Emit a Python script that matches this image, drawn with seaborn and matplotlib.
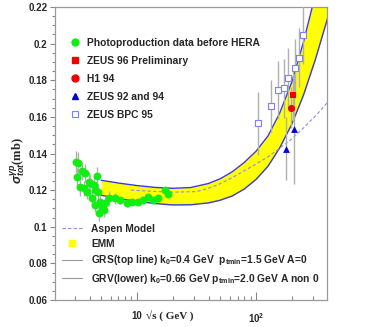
import numpy as np
import pandas as pd
import matplotlib
matplotlib.use("Agg")
import matplotlib.pyplot as plt
import seaborn as sns
from matplotlib.lines import Line2D
from matplotlib.ticker import FixedLocator, MultipleLocator, NullFormatter, FixedFormatter, FuncFormatter

# ---------------- data ----------------
green_x = [3.07, 3.15, 3.19, 3.34, 3.45, 3.57, 3.64, 3.80, 3.93, 4.05, 4.19, 4.33, 4.46, 4.46,
           4.61, 4.67, 4.77, 4.92, 5.08, 5.25, 5.42, 5.78, 6.57, 7.20, 8.19, 9.03, 10.25, 11.3,
           12.45, 13.7, 15.1, 17.2, 18.3]
green_y = [0.1356, 0.1272, 0.1347, 0.1219, 0.1305, 0.1210, 0.1292, 0.1192, 0.1247, 0.1237,
           0.1155, 0.1228, 0.1201, 0.1119, 0.1279, 0.1192, 0.1073, 0.1137, 0.1101, 0.1091,
           0.1128, 0.1155, 0.1155, 0.1144, 0.1128, 0.1137, 0.1137, 0.1144, 0.1162, 0.1144,
           0.1155, 0.1199, 0.1181]
green_err = [0.006, 0.005, 0.006, 0.005, 0.005, 0.004, 0.005, 0.004, 0.005, 0.005, 0.004, 0.004,
             0.004, 0.004, 0.005, 0.004, 0.004, 0.004, 0.004, 0.004, 0.004, 0.004, 0.003, 0.002,
             0.002, 0.002, 0.002, 0.002, 0.002, 0.002, 0.002, 0.002, 0.002]

zeus96_x, zeus96_y, zeus96_err = [203.0], [0.1719], [0.014]
h194_x, h194_y, h194_err = [198.0], [0.1651], [0.011]
zeus9294_x = [178.6, 207.0]
zeus9294_y = [0.1427, 0.1536]
zeus9294_err = [0.017, 0.030]
bpc_x = [104.0, 133.0, 152.0, 172.0, 187.0, 213.0, 231.0, 250.0]
bpc_y = [0.1564, 0.1660, 0.1746, 0.1755, 0.1815, 0.1865, 0.1923, 0.2047]
bpc_err = [0.017, 0.014, 0.016, 0.016, 0.016, 0.016, 0.016, 0.016]

band_x = [5, 7.1, 10, 14.1, 20, 28.2, 39.8, 50.1, 63.1, 79.4, 100, 126, 158, 200, 251, 316, 398]
grs_y = [0.1254, 0.1238, 0.1225, 0.1215, 0.1210, 0.1214, 0.1236, 0.1262, 0.1300, 0.1350,
         0.1412, 0.1495, 0.1620, 0.1790, 0.2010, 0.2270, 0.2560]
grv_y = [0.1172, 0.1153, 0.1139, 0.1127, 0.1119, 0.1120, 0.1130, 0.1145, 0.1168, 0.1205,
         0.1258, 0.1330, 0.1430, 0.1560, 0.1720, 0.1915, 0.2135]
aspen_x = [8.9, 14.1, 20, 31.6, 39.8, 50.1, 63.1, 79.4, 100, 126, 158, 200, 251, 316, 398]
aspen_y = [0.1200, 0.1193, 0.1189, 0.1192, 0.1210, 0.1235, 0.1268, 0.1305, 0.1342, 0.1382,
           0.1428, 0.1480, 0.1540, 0.1605, 0.1678]

legend1_labels = ["Photoproduction data before HERA", "ZEUS 96 Preliminary", "H1 94",
                  "ZEUS 92 and 94", "ZEUS BPC 95"]
legend2_labels = ["Aspen Model", "EMM",
                  r"GRS(top line) k$_0$=0.4 GeV  p$_{\rm tmin}$=1.5 GeV A=0",
                  r"GRV(lower) k$_0$=0.66 GeV p$_{\rm tmin}$=2.0 GeV A non 0"]
xtick_vals = [10, 100]
xtick_labels = ["10", r"10$^{\rm 2}$"]

# ---------------- style ----------------
sns.set_theme(style="ticks")
plt.rcParams["font.family"] = ["Liberation Sans", "DejaVu Sans"]
plt.rcParams["font.weight"] = "bold"
plt.rcParams["mathtext.fontset"] = "custom"
plt.rcParams["mathtext.rm"] = "Liberation Sans:bold"
plt.rcParams["mathtext.it"] = "Liberation Sans:italic:bold"
plt.rcParams["mathtext.bf"] = "Liberation Sans:bold"

fig = plt.figure(figsize=(3.82, 3.27), dpi=100)
ax = fig.add_axes([55 / 382, 1 - 300 / 327, 272 / 382, 293 / 327])
ax.set_xscale("log")

GREEN = "#11ee11"
RED = "#ee0000"
BLUE = "#0000dd"
LAV = "#7f7fff"
ERRC = "#b0b0b0"
CURVE = "#3a3ad8"

# band
ax.fill_between(band_x, grv_y, grs_y, color="#ffff00", lw=0, zorder=1)
sns.lineplot(x=band_x, y=grs_y, ax=ax, color=CURVE, lw=1.0, sort=False, estimator=None, zorder=2)
sns.lineplot(x=band_x, y=grv_y, ax=ax, color=CURVE, lw=1.0, sort=False, estimator=None, zorder=2)
sns.lineplot(x=aspen_x, y=aspen_y, ax=ax, color="#8c8cf0", lw=0.8, sort=False, estimator=None,
             zorder=2, linestyle=(0, (3, 2)))

# error bars
for xs, ys, es in [(green_x, green_y, green_err), (zeus96_x, zeus96_y, zeus96_err),
                   (h194_x, h194_y, h194_err), (zeus9294_x, zeus9294_y, zeus9294_err),
                   (bpc_x, bpc_y, bpc_err)]:
    ax.errorbar(xs, ys, yerr=es, fmt="none", ecolor=ERRC, elinewidth=1.0, capsize=0, zorder=3)

sns.scatterplot(x=green_x, y=green_y, ax=ax, color=GREEN, s=32, marker="o", edgecolor=GREEN,
                linewidth=0, zorder=4)
sns.scatterplot(x=zeus96_x, y=zeus96_y, ax=ax, color=RED, s=24, marker="s", linewidth=0, zorder=5)
sns.scatterplot(x=h194_x, y=h194_y, ax=ax, color=RED, s=26, marker="o", linewidth=0, zorder=5)
sns.scatterplot(x=zeus9294_x, y=zeus9294_y, ax=ax, color=BLUE, s=24, marker="^", linewidth=0, zorder=5)
sns.scatterplot(x=bpc_x, y=bpc_y, ax=ax, facecolor="white", edgecolor=LAV, s=14, marker="s",
                linewidth=0.8, zorder=5)

# axes
ax.set_xlim(2.05, 395)
ax.set_ylim(0.06, 0.22)
ax.xaxis.set_major_locator(FixedLocator(xtick_vals))
ax.xaxis.set_major_formatter(FixedFormatter(xtick_labels))
minors = [m * d for d in (1, 10, 100) for m in range(2, 10)]
ax.xaxis.set_minor_locator(FixedLocator(minors))
ax.xaxis.set_minor_formatter(NullFormatter())
ax.yaxis.set_major_locator(MultipleLocator(0.02))
ax.yaxis.set_minor_locator(MultipleLocator(0.005))
ax.yaxis.set_major_formatter(FuncFormatter(lambda v, p: f"{v:g}"))

ax.tick_params(axis="x", which="major", direction="in", length=6, width=0.8, color="#888888",
               labelsize=7, pad=8, top=False)
ax.tick_params(axis="x", which="minor", direction="in", length=3, width=0.8, color="#888888",
               top=False)
ax.tick_params(axis="y", which="major", direction="out", length=3.5, width=0.8, color="#888888",
               labelsize=7, pad=2, right=False)
ax.tick_params(axis="y", which="minor", direction="out", length=2, width=0.8, color="#888888",
               right=False)
for lab in ax.get_xticklabels() + ax.get_yticklabels():
    lab.set_fontweight("bold")
for sp in ax.spines.values():
    sp.set_color("#999999")
    sp.set_linewidth(0.9)
    sp.set_visible(True)

ax.set_xlabel("√s ( GeV )", fontfamily=["Liberation Serif", "DejaVu Serif"], fontweight="bold",
              fontsize=8)
ax.xaxis.set_label_coords((170 - 55) / 272, (300 - 316) / 293)
ax.xaxis.label.set_va("center")
ax.set_ylabel(r"$\sigma^{\gamma p}_{tot}$(mb)", fontfamily=["Liberation Serif", "DejaVu Serif"],
              fontweight="bold", fontsize=9)
ax.yaxis.set_label_coords((18 - 55) / 272, (300 - 161) / 293)
ax.yaxis.label.set_va("center")

# legends
h1 = [Line2D([], [], ls="none", marker="o", color=GREEN, ms=5),
      Line2D([], [], ls="none", marker="s", color=RED, ms=4.5),
      Line2D([], [], ls="none", marker="o", color=RED, ms=5),
      Line2D([], [], ls="none", marker="^", color=BLUE, ms=4.5),
      Line2D([], [], ls="none", marker="s", mfc="white", mec=LAV, ms=5, mew=0.8)]
leg1 = ax.legend(h1, legend1_labels, loc="upper left", bbox_to_anchor=((69.8 - 55) / 272, (300 - 37.5) / 293),
                 frameon=False, borderpad=0, borderaxespad=0, handlelength=1.0, handletextpad=0.67,
                 labelspacing=0.78, prop={"family": "Liberation Sans", "weight": "bold", "size": 7.4})
ax.add_artist(leg1)

h2 = [Line2D([], [], color="#8c8cf0", lw=0.8, ls=(0, (3, 2))),
      Line2D([], [], ls="none", marker="s", color="#ffff00", ms=5),
      Line2D([], [], color="#999999", lw=0.8),
      Line2D([], [], color="#999999", lw=0.8)]
leg2 = ax.legend(h2, legend2_labels, loc="upper left", bbox_to_anchor=((62 - 55) / 272, (300 - 224) / 293),
                 frameon=False, borderpad=0, borderaxespad=0, handlelength=1.9, handletextpad=0.95,
                 labelspacing=0.45, prop={"family": "Liberation Sans", "weight": "bold", "size": 7.4})

fig.savefig("out.png", dpi=100)
